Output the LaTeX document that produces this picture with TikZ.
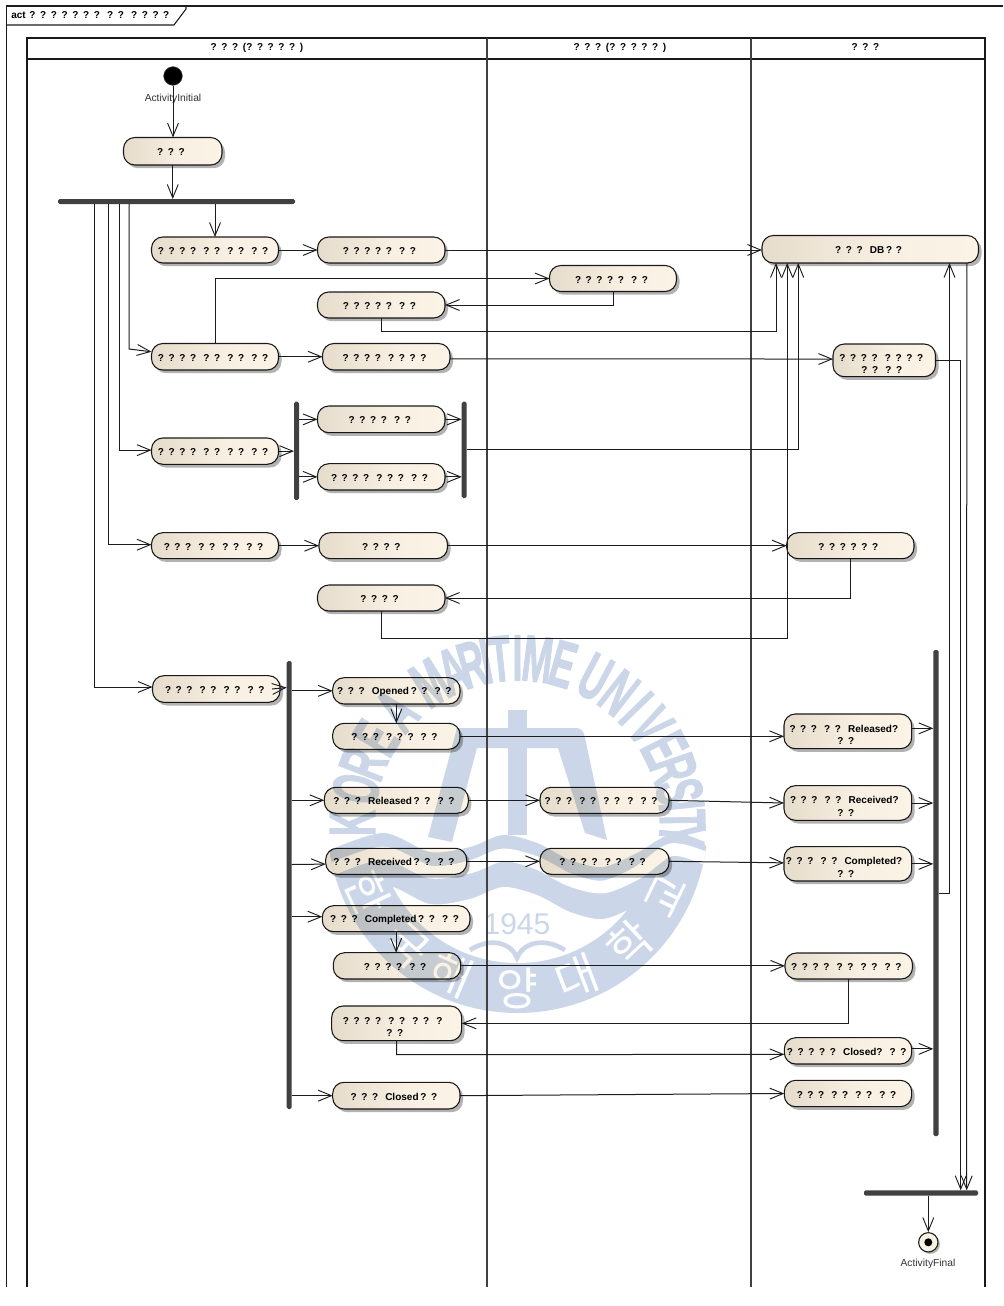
\documentclass[tikz,border=0pt]{standalone}
\usepackage{fontspec}
\setmainfont{Liberation Sans}
\newfontfamily\krfont{Noto Sans CJK KR}
\newfontfamily\wmfont[UprightFont=* Bold,FakeBold=2]{Liberation Sans}
\usetikzlibrary{arrows.meta,calc,shadows}
\definecolor{cA}{HTML}{E6DCCC}
\definecolor{cB}{HTML}{F8F0E2}
\definecolor{cC}{HTML}{FBF3E5}
\definecolor{wm}{HTML}{CBD7E9}
\definecolor{barc}{HTML}{404040}
\definecolor{linec}{HTML}{1C1C1C}
\pgfdeclarehorizontalshading{actshade}{100bp}{color(0bp)=(cA); color(25bp)=(cA); color(55bp)=(cB); color(75bp)=(cC); color(100bp)=(cC)}
\newcommand\gp{\hspace{.25em}}
\newcommand\setsp{\spaceskip=.37em\relax}
\newcommand\tx[2]{\makebox[0pt][c]{\setsp\hspace*{#1\dimexpr1.5pt\relax}#2}}
\tikzset{
  even odd clip/.code={\pgfseteorule},
  act/.style={draw=linec,line width=.8pt,rounded corners=8.5pt,shading=actshade,shading angle=0,inner sep=0pt,outer sep=0pt,align=center,blend mode=multiply,
    font=\bfseries\fontsize{7.5}{9.6}\selectfont},
  barnode/.style={fill=barc,rounded corners=1.2pt,inner sep=0pt,outer sep=0pt},
  lbl/.style={font=\fontsize{7.7}{9}\selectfont,text=black!80,inner sep=0pt},
  head/.style={font=\bfseries\fontsize{7.5}{9}\selectfont,inner sep=0pt},
  conn/.style={draw=linec,line width=.75pt},
  arr/.style={conn,-{Straight Barb[length=10pt,width=8.2pt,line width=.7pt]}},
  lane/.style={draw=black!90,line width=.85pt},
  wmletter/.style={font=\wmfont\fontsize{49}{49}\selectfont,text=wm,inner sep=0pt},
  wmkr/.style={font=\krfont\fontsize{34}{34}\selectfont,text=white,inner sep=0pt}
}
\newcommand\shad[4]{\begin{scope}[even odd clip]\clip (0,0) rectangle (1003,1306) [rounded corners=8.5pt] (#1,#2) rectangle (#3,#4);\fill[black,opacity=.3,rounded corners=8.5pt] ({#1+3},{#2+3.2}) rectangle ({#3+3},{#4+3.2});\end{scope}}
\newcommand\ab[7]{\shad{#2}{#3}{#4}{#5}\node[act,minimum width={(#4-#2)*.75pt},minimum height={(#5-#3)*.75pt}] (#1) at ({(#2+#4)/2},{(#3+#5)/2}) {\rule{0pt}{6.9pt}\tx{#6}{#7}};}
\newcommand\abb[9]{\shad{#2}{#3}{#4}{#5}\node[act,minimum width={(#4-#2)*.75pt},minimum height={(#5-#3)*.75pt}] (#1) at ({(#2+#4)/2},{(#3+#5)/2}) {\rule{0pt}{10.6pt}\tx{#6}{#7}\\\tx{#8}{#9}};}
\newcommand\bn[5]{\node[barnode,minimum width={(#4-#2)*.75pt},minimum height={(#5-#3)*.75pt}] (#1) at ({(#2+#4)/2},{(#3+#5)/2}) {};}
\begin{document}
\begin{tikzpicture}[x=.75pt,y=-.75pt]
\useasboundingbox (0,0) rectangle (1003,1306);
\fill[white] (0,0) rectangle (1003,1306);
% watermark
\foreach \ch/\a in {K/180,O/168,R/159,E/149,A/137,M/122,A/113,R/106,I/101,T/96,I/90,M/83,E/74,U/62,N/52,I/44,V/36,E/27,R/19,S/11,I/6,T/1,Y/-4}{
  \node[wmletter,rotate={\a-90}] (wl\a) at ({517.5+165*cos(\a)},{823-165*sin(\a)}) {\scalebox{.55}[1]{\ch}};
}
\fill[wm] (508,710) rectangle (527,835);
\fill[wm] (428,837) -- (457,728) -- (575,728) .. controls (582,728) and (584,732) .. (585,738) -- (607,840) -- (585,833) -- (558,748) -- (477,748) -- (452,842) -- cycle;
\begin{scope}
\clip (517.5,823) circle[radius=190];
\fill[wm] plot[smooth] coordinates {(325,852)(383,833)(430,852)(470,847)(503,835)(537,843)(570,860)(603,867)(637,853)(670,835)(705,845)(715,855)} -- (715,1020) -- (325,1020) -- cycle;
\draw[white,line width=9.5pt] plot[smooth] coordinates {(325,872)(383,853)(430,872)(470,867)(503,855)(537,863)(570,880)(603,887)(637,873)(670,850)(700,856)(715,865)};
\end{scope}
\begin{scope}
\clip (517.5,823) circle[radius=140];
\fill[white] plot[smooth] coordinates {(325,904)(383,885)(430,904)(470,899)(503,887)(537,895)(570,912)(603,919)(637,905)(670,879)(715,879)} -- (715,1020) -- (325,1020) -- cycle;
\end{scope}
\node[font=\fontsize{22.5}{24}\selectfont,text=wm,inner sep=0pt] (wy) at (517,924) {1945};
\draw[wm,line width=3.5pt] (470,950) .. controls (492,936) and (512,944) .. (517,958) .. controls (522,944) and (542,936) .. (565,950);
\foreach \ch/\a in {한/205,국/228,해/246.5,양/270,대/291,학/313,교/334}{
  \node[wmkr,rotate={\a-270}] (wk\a) at ({517.5+165*cos(\a)},{823-165*sin(\a)}) {\ch};
}
% frame
\draw[conn,line width=.8pt] (6.5,1287) -- (6.5,6) -- (1003,6);
\draw[conn,line width=.8pt] (6.5,25) -- (174,25) -- (186,9) -- (186,6);
\node[head,anchor=west] (title) at (11,15.5) {\setsp act ? ? ? ? ? ? ? \gp ? ? \gp ? ? ? ?};
% lanes
\draw[lane] (27,1287) -- (27,38) -- (985,38) -- (985,1287);
\draw[lane] (27,59) -- (985,59);
\draw[lane,line width=.95pt,draw=black!75] (487,38) -- (487,1287);
\draw[lane,line width=.95pt,draw=black!75] (751,38) -- (751,1287);
\node[head] (h1) at (257,47.5) {\setsp ? ? ? (? ? ? ? ? )};
\node[head] (h2) at (620,47.5) {\setsp ? ? ? (? ? ? ? ? )};
\node[head] (h3) at (865.5,47.5) {\setsp ? ? ?};
% initial
\node[circle,fill=black,draw=black!70,line width=.4pt,minimum size=14pt,inner sep=0pt] (start) at (173,76) {};
\node[lbl] (startl) at (173,98.5) {ActivityInitial};
% bars
\bn{fork}{58}{199}{295}{204}
\bn{lbar}{294}{401.7}{299}{500}
\bn{rbar}{461.7}{401.7}{466.7}{498}
\bn{barA}{286.7}{661}{291.7}{1109}
\bn{barR}{933.3}{650}{938.7}{1136}
\bn{fbar}{864}{1190.3}{978}{1195.7}
% actions
\ab{a1}{123.5}{137.5}{222}{165}{-1.75}{? ? ?}
\ab{b1}{151.5}{237}{278.5}{263}{-2}{? ? ? ? \gp ? ? \gp ? ? \gp ? ?}
\ab{c1}{317.5}{237}{445}{263}{-1.75}{? ? ? ? ? \gp ? ?}
\ab{db}{762}{235.5}{978.5}{263}{-1.7}{? ? ? \gp DB\,? ?}
\ab{d}{549.5}{265.5}{676.5}{291.5}{-1.5}{? ? ? ? ? \gp ? ?}
\ab{e}{317.5}{292}{445}{318}{-1.75}{? ? ? ? ? \gp ? ?}
\ab{b2}{151.5}{343.5}{278.5}{370}{-2}{? ? ? ? \gp ? ? \gp ? ? \gp ? ?}
\ab{f}{322.5}{343.5}{450}{370}{-1.75}{? ? ? ? \gp ? ? ? ?}
\abb{g}{833}{344}{935.5}{376.7}{-3}{? ? ? ? \gp ? ? ? ?}{-2.5}{? ? \gp ? ?}
\ab{h}{151.5}{438}{278.5}{464.3}{-2}{? ? ? ? \gp ? ? \gp ? ? \gp ? ?}
\ab{i}{317.5}{406}{445}{432.7}{-1.5}{? ? ? ? \gp ? ?}
\ab{j}{317.5}{463.7}{445}{490}{-1.75}{? ? ? ? \gp ? ? ? \gp ? ?}
\ab{k}{151.5}{532.7}{278.5}{558.7}{-1.5}{? ? ? \gp ? ? \gp ? ? \gp ? ?}
\ab{l}{319}{532.7}{447.5}{558.7}{-2}{? ? ? ?}
\ab{m}{786.7}{532.7}{914}{558.7}{-2}{? ? ? ? ? ?}
\ab{n}{317.5}{585}{445}{611}{-1.75}{? ? ? ?}
\ab{p}{152.5}{675.7}{280}{702.3}{-1.5}{? ? ? \gp ? ? \gp ? ? \gp ? ?}
\ab{q}{332.7}{677.7}{460}{704}{-2}{? ? ? \gp Opened\,? ? \gp ? ?}
\ab{r}{332.7}{723.3}{460}{749.3}{-1.9}{? ? ? \gp ? ? ? \gp ? ?}
\abb{nS}{784}{714}{911.7}{748.7}{-4}{? ? ? \gp ? ? \gp Released?}{-2}{? ?}
\ab{t}{324.3}{787.3}{468.3}{813.3}{-2.3}{? ? ? \gp Released\,? ? \gp ? ?}
\ab{u}{540}{787.3}{669}{813.3}{-3.4}{? ? ? \gp ? ? \gp ? ? \gp ? \gp ? ?}
\abb{nV}{784}{785.7}{911.7}{820.3}{-3.5}{? ? ? \gp ? ? \gp Received?}{-2}{? ?}
\ab{w}{325.7}{848.3}{466.7}{874.3}{-2.2}{? ? ? \gp Received\,? ? \gp ? ?}
\ab{nX}{540}{848.3}{669}{874.3}{-2}{? ? ? ? \gp ? ? \gp ? ?}
\abb{nY}{784}{846.7}{911.7}{881}{-3.8}{? ? ? \gp ? ? \gp Completed?}{-2}{? ?}
\ab{z}{322.3}{905.7}{470}{931.7}{-1.6}{? ? ? \gp Completed\,? ? \gp ? ?}
\ab{aa}{333.3}{952.7}{460.7}{979}{-2}{? ? ? ? \gp ? ?}
\ab{nAb}{785}{953}{912.5}{979}{-2.5}{? ? ? ? \gp ? ? \gp ? ? \gp ? ?}
\abb{ac}{331.7}{1006}{461.7}{1040.7}{-4}{? ? ? ? \gp ? ? \gp ? ? \gp ?}{-2}{? ?}
\ab{ad}{784.3}{1037.7}{911.7}{1064}{-1.3}{? ? ? ? ? \gp Closed? \gp ? ?}
\ab{ae}{332.7}{1082.3}{460}{1109}{-2.5}{? ? ? \gp Closed\,? ?}
\ab{af}{784.3}{1080.3}{911.7}{1106.7}{-1.5}{? ? ? \gp ? ? \gp ? ? \gp ? ?}
% final
\node[circle,draw=linec,line width=.8pt,fill=cB,minimum size=14.5pt,inner sep=0pt,drop shadow={shadow xshift=1.5pt,shadow yshift=-1.5pt,fill=black,opacity=.3}] (fin) at (928.3,1242.3) {};
\fill[black] (fin.center) circle[radius=3pt];
\node[lbl] (finl) at (928,1263.5) {ActivityFinal};
% connectors
\draw[arr] (start.south) -- (start.south |- a1.north);
\draw[arr] (a1.south) -- (a1.south |- fork.north);
\draw[arr] (b1.north |- fork.south) -- (b1.north);
\draw[arr] ($(fork.south)+(-47.5,0)$) -- ++(0,145) -- ($(b2.west)+(0,-5)$);
\draw[arr] ($(fork.south)+(-57,0)$) |- ($(h.west)+(0,-1)$);
\draw[arr] ($(fork.south)+(-68.5,0)$) |- ($(k.west)+(0,-1)$);
\draw[arr] ($(fork.south)+(-82,0)$) |- ($(p.west)+(0,-2)$);
\draw[arr] (b1.east) -- (b1.east -| c1.west);
\draw[arr] (c1.east) -- (c1.east -| db.west);
\draw[arr] (b2.north) |- (d.west);
\draw[arr] (d.south) |- (e.east);
\draw[arr] (e.south) -- ++(0,13.5) -| ($(db.south)+(-94.25,0)$);
\draw[arr] (b2.east) -- (b2.east -| f.west);
\draw[arr] ($(f.east)+(0,2)$) -- ($(g.west)+(0,-1.3)$);
\draw[arr] (g.east) -| ($(fbar.north)+(39.7,0)$);
\draw[arr] ($(db.south)+(96.5,0)$) -- ($(fbar.north)+(45.7,0)$);
\draw[arr] (h.east) -- (h.east -| lbar.west);
\draw[arr] (i.west -| lbar.east) -- (i.west);
\draw[arr] (j.west -| lbar.east) -- (j.west);
\draw[arr] (i.east) -- (i.east -| rbar.west);
\draw[arr] (j.east) -- (j.east -| rbar.west);
\draw[arr] (rbar.east) -| ($(db.south)+(-72,0)$);
\draw[arr] (k.east) -- (k.east -| l.west);
\draw[arr] (l.east) -- (l.east -| m.west);
\draw[arr] (m.south) |- (n.east);
\draw[arr] (n.south) -- ++(0,27.7) -| ($(db.south)+(-83,0)$);
\draw[arr] ($(p.east)+(-8,0)$) -- ($(p.east -| barA.west)+(0,-1.5)$);
\draw[arr] (q.west -| barA.east) -- (q.west);
\draw[arr] (q.south) -- (r.north);
\draw[arr] (r.east) -- (r.east -| nS.west);
\draw[arr] ($(nS.east)+(0,-3)$) -- ($(nS.east -| barR.west)+(0,-3)$);
\draw[arr] (t.west -| barA.east) -- (t.west);
\draw[arr] (t.east) -- (u.west);
\draw[arr] (u.east) -- (nV.west);
\draw[arr] (nV.east) -- (nV.east -| barR.west);
\draw[arr] ($(w.west -| barA.east)+(0,3.2)$) -- ($(w.west)+(0,2.8)$);
\draw[arr] (w.east) -- (w.east -| nX.west);
\draw[arr] (nX.east) -- ($(nY.west)+(0,-1)$);
\draw[arr] (nY.east) -- (nY.east -| barR.west);
\draw[arr] ($(z.west -| barA.east)+(0,-2)$) -- ($(z.west)+(0,-2)$);
\draw[arr] (z.south) -- (z.south |- aa.north);
\draw[arr] (aa.east) -- (aa.east -| nAb.west);
\draw[arr] (nAb.south) |- (ac.east);
\draw[arr] (ac.south) -- ++(0,14) -- ($(ad.west)+(0,3.5)$);
\draw[arr] ($(ad.east)+(0,-2)$) -- ($(ad.east -| barR.west)+(0,-2)$);
\draw[arr] (ae.west -| barA.east) -- (ae.west);
\draw[arr] (ae.east) -- (af.west);
\draw[arr] (barR.east) -| ($(db.south)+(79.25,0)$);
\draw[arr] (fin.north |- fbar.south) -- (fin.north);
\end{tikzpicture}
\end{document}
